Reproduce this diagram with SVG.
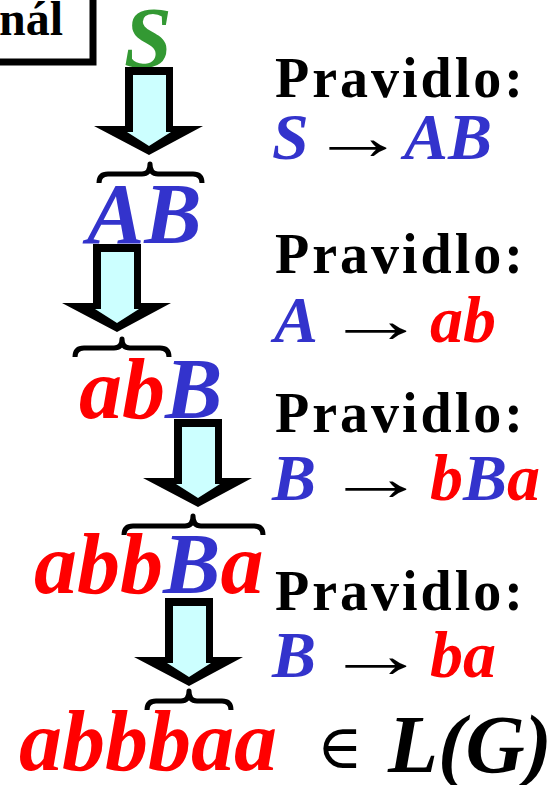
<svg xmlns="http://www.w3.org/2000/svg" width="560" height="785" viewBox="0 0 560 785">
  <style>
    .bi { font-weight: bold; font-style: italic; }
    .big { font-size: 86px; }
    .rule { font-size: 66px; }
    .head { font-size: 56px; font-weight: bold; letter-spacing: 3px; fill: #000; }
    .to { font-size: 66px; font-weight: normal; font-style: normal; fill: #000; }
    .red { fill: #FF0000; }
    .blue { fill: #3333CC; }
    .green { fill: #339933; }
    .brace { fill: none; stroke: #000; stroke-width: 5; stroke-linejoin: round; }
  </style>
  <defs>
    <!-- block arrow: black outline with light cyan body -->
    <g id="blockArrow">
      <polygon points="125,67 173,67 173,126 203,126 149,155 94,126 125,126" fill="#000"/>
      <polygon points="133,75 166,75 166,132 171,132 149,146 127,132 133,132" fill="#CCFFFF"/>
    </g>
  </defs>

  <!-- label box cut by the top-left corner -->
  <g id="titleBox">
    <rect x="-20" y="-20" width="113" height="82" fill="#fff" stroke="#000" stroke-width="7"/>
    <text font-family="Liberation Serif" x="63" y="35" text-anchor="end" font-size="48" font-weight="bold" fill="#000">nál</text>
  </g>

  <!-- derivation steps -->
  <g id="step0"><text font-family="Liberation Serif" class="bi big green" x="124" y="67">S</text></g>
  <g id="step1"><text font-family="Liberation Serif" class="bi big blue" x="87" y="243">AB</text></g>
  <g id="step2"><text font-family="Liberation Serif" class="bi big" x="79" y="418"><tspan class="red">ab</tspan><tspan class="blue">B</tspan></text></g>
  <g id="step3"><text font-family="Liberation Serif" class="bi big" x="34" y="593"><tspan class="red">abb</tspan><tspan class="blue">B</tspan><tspan class="red">a</tspan></text></g>
  <g id="step4">
    <text font-family="Liberation Serif" class="bi big red" x="19" y="770">abbbaa</text>
    <text font-family="DejaVu Serif" x="317" y="768" font-size="62" fill="#000">∈</text>
    <text font-family="Liberation Serif" class="bi" x="388" y="772" font-size="82" fill="#000">L(G)</text>
  </g>

  <!-- rewriting arrows and braces marking the replaced part -->
  <g id="connectors">
    <use href="#blockArrow"/>
    <use href="#blockArrow" transform="translate(-32,177)"/>
    <use href="#blockArrow" transform="translate(49,352)"/>
    <use href="#blockArrow" transform="translate(40,531)"/>
    <path class="brace" d="M99,183 Q99,174 108,174 L142,174 Q150,174 150,164 Q150,174 158,174 L193,174 Q202,174 202,183"/>
    <path class="brace" d="M75,357 Q75,348 84,348 L114,348 Q122,348 122,339 Q122,348 130,348 L160,348 Q169,348 169,357"/>
    <path class="brace" d="M124,535 Q124,526 133,526 L185,526 Q193,526 193,516 Q193,526 201,526 L254,526 Q263,526 263,535"/>
    <path class="brace" d="M147,710 Q147,701 156,701 L181,701 Q189,701 189,691 Q189,701 197,701 L222,701 Q231,701 231,710"/>
  </g>

  <!-- production rules -->
  <g id="rule1">
    <text font-family="Liberation Serif" class="head" x="275" y="97">Pravidlo:</text>
    <text font-family="Liberation Serif" class="bi rule blue" x="272" y="159">S</text>
    <text font-family="Liberation Serif" class="to" transform="translate(310,159) scale(1.46,1)">→</text>
    <text font-family="Liberation Serif" class="bi rule blue" x="404" y="159">AB</text>
  </g>
  <g id="rule2">
    <text font-family="Liberation Serif" class="head" x="275" y="273">Pravidlo:</text>
    <text font-family="Liberation Serif" class="bi rule blue" x="274" y="342">A</text>
    <text font-family="Liberation Serif" class="to" transform="translate(324,342) scale(1.56,1)">→</text>
    <text font-family="Liberation Serif" class="bi rule red" x="430" y="342">ab</text>
  </g>
  <g id="rule3">
    <text font-family="Liberation Serif" class="head" x="275" y="432">Pravidlo:</text>
    <text font-family="Liberation Serif" class="bi rule blue" x="272" y="500">B</text>
    <text font-family="Liberation Serif" class="to" transform="translate(324,500) scale(1.56,1)">→</text>
    <text font-family="Liberation Serif" class="bi rule" x="430" y="500"><tspan class="red">b</tspan><tspan class="blue">B</tspan><tspan class="red">a</tspan></text>
  </g>
  <g id="rule4">
    <text font-family="Liberation Serif" class="head" x="275" y="610">Pravidlo:</text>
    <text font-family="Liberation Serif" class="bi rule blue" x="272" y="677">B</text>
    <text font-family="Liberation Serif" class="to" transform="translate(324,677) scale(1.56,1)">→</text>
    <text font-family="Liberation Serif" class="bi rule red" x="430" y="677">ba</text>
  </g>
</svg>
